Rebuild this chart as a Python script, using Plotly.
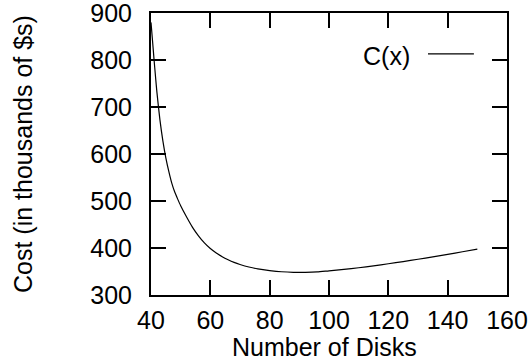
import plotly.graph_objects as go

# Data
disks = [40, 40.5, 41, 41.5, 42, 43, 44, 45, 46, 47, 48, 49, 50, 52, 54, 56, 58, 60,
         62, 64, 66, 68, 70, 73, 76, 80, 84, 88, 92, 96, 100, 105, 110, 115, 120,
         125, 130, 135, 140, 145, 150]
cost = [880, 842, 803, 766, 731, 673, 628, 592, 563, 538, 519, 504, 490, 466, 444, 426, 411, 399,
        389.5, 381.5, 375, 369.5, 365, 359.5, 355.5, 352, 349.5, 348.3, 348.2, 349, 351.5, 354.5,
        358, 362, 366.5, 371, 376, 381, 386.5, 392, 397.5]
x_ticks = [40, 60, 80, 100, 120, 140, 160]
y_ticks = [300, 400, 500, 600, 700, 800, 900]
series_name = "C(x)"

FONT = "Liberation Sans, Arial, Helvetica, sans-serif"
FS = 25

fig = go.Figure()
fig.add_trace(go.Scatter(
    x=disks, y=cost, mode="lines", name=series_name,
    line=dict(color="black", width=1.2, shape="spline", smoothing=0.6),
    showlegend=False, hoverinfo="skip",
))

axis_common = dict(
    showline=True, linecolor="black", linewidth=2, mirror="ticks",
    ticks="inside", ticklen=15, tickwidth=2, tickcolor="black",
    showgrid=False, zeroline=False, automargin=False, ticklabeloverflow="allow",
    tickfont=dict(family=FONT, size=FS, color="black"),
)
fig.update_xaxes(range=[40, 160], tickvals=x_ticks, ticklabelstandoff=2, **axis_common)
fig.update_yaxes(range=[300, 900], tickvals=y_ticks, ticklabelstandoff=12, **axis_common)

# Axis titles
fig.add_annotation(x=-0.3596, y=0.5, xref="paper", yref="paper", text="Cost (in thousands of $s)",
                   textangle=-90, showarrow=False, font=dict(family=FONT, size=FS, color="black"),
                   xanchor="center", yanchor="middle")
fig.add_annotation(x=0.486, y=-0.183, xref="paper", yref="paper", text="Number of Disks",
                   showarrow=False, font=dict(family=FONT, size=FS, color="black"),
                   xanchor="center", yanchor="middle")

# gnuplot-style key: text then sample line
fig.add_annotation(x=0.733, y=0.848, xref="paper", yref="paper", text=series_name,
                   showarrow=False, font=dict(family=FONT, size=FS, color="black"),
                   xanchor="right", yanchor="middle")
fig.add_shape(type="line", xref="paper", yref="paper", x0=0.778, x1=0.907, y0=0.855, y1=0.855,
              line=dict(color="black", width=1.2))

fig.update_layout(
    width=529, height=364,
    margin=dict(l=151, r=22, t=13, b=69, autoexpand=False),
    paper_bgcolor="white", plot_bgcolor="white",
    font=dict(family=FONT, color="black"),
    hovermode=False,
)

fig.write_html("out.html", config={"displayModeBar": False, "staticPlot": True},
               post_script="document.body.style.margin='0';document.body.style.overflow='hidden';")
